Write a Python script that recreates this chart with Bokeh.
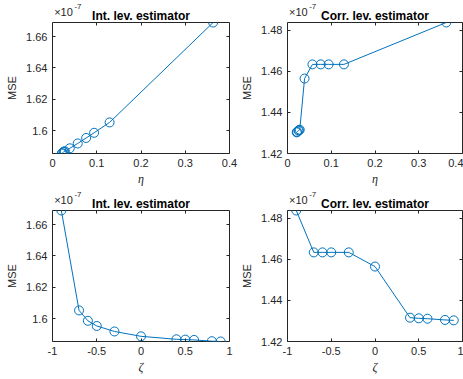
from bokeh.plotting import figure
from bokeh.models import (Range1d, FixedTicker, LinearAxis, CustomJSTickFormatter,
                          PrintfTickFormatter, ColumnDataSource, Title)
from bokeh.layouts import column, row
from bokeh.embed import file_html
from bokeh.resources import INLINE

# ---- data (MSE values in units of 1e-7) ----
zeta = [-0.9, -0.7, -0.6, -0.5, -0.3, 0.0, 0.4, 0.5, 0.6, 0.8, 0.9]
eta = [0.363, 0.129, 0.094, 0.076, 0.057, 0.039, 0.028, 0.026, 0.025, 0.022, 0.021]
mse_int = [1.6690, 1.6053, 1.5987, 1.5954, 1.5919, 1.5888, 1.5869, 1.5867, 1.5865, 1.5857, 1.5855]
mse_corr = [1.4838, 1.4634, 1.4634, 1.4634, 1.4634, 1.4565, 1.4316, 1.4313, 1.4311, 1.4305, 1.4303]

eta_ticks = [0, 0.1, 0.2, 0.3, 0.4]
zeta_ticks = [-1, -0.5, 0, 0.5, 1]
int_ticks = [1.6, 1.62, 1.64, 1.66]
corr_ticks = [1.42, 1.44, 1.46, 1.48]

titles = ["Int. lev. estimator", "Corr. lev. estimator"]
exp_base = "\u00d710"
exp_power = "-7"

BLUE = "#0072BD"
AX = "#262626"
FONT = "Liberation Sans"


def text_axis(p, text, pos, size, standoff):
    """An axis in the top panel that only carries one piece of text."""
    ax = LinearAxis(x_range_name="px", ticker=FixedTicker(ticks=[pos]),
                    formatter=CustomJSTickFormatter(args=dict(t=text), code="return t"))
    ax.major_tick_line_color = None
    ax.major_tick_in = 0
    ax.major_tick_out = 0
    ax.minor_tick_line_color = None
    ax.axis_line_color = None
    ax.axis_label = None
    ax.major_label_standoff = standoff
    ax.major_label_text_font = FONT
    ax.major_label_text_font_size = size
    ax.major_label_text_color = AX
    p.add_layout(ax, "above")


def make_plot(xs, ys, xr, yr, xticks, yticks, title, xlabel, w, h, bl, br, bt, bb):
    fw = w - bl - br
    p = figure(width=w, height=h, x_range=Range1d(*xr), y_range=Range1d(*yr),
               output_backend="svg", toolbar_location=None, title=None,
               min_border_left=bl, min_border_right=br,
               min_border_top=bt, min_border_bottom=bb)
    p.extra_x_ranges = {"px": Range1d(0, fw)}
    p.grid.visible = False
    p.outline_line_color = AX
    p.outline_line_width = 1
    p.background_fill_color = "white"
    p.border_fill_color = "white"

    # the default axes, configured through direct references
    xax = p.below[0]
    yax = p.left[0]
    fmt = PrintfTickFormatter(format="%g")
    for ax, ticks in ((xax, xticks), (yax, yticks)):
        ax.ticker = FixedTicker(ticks=ticks)
        ax.formatter = fmt
        ax.major_tick_in = 3
        ax.major_tick_out = 0
        ax.minor_tick_line_color = None
        ax.axis_line_color = None
        ax.major_tick_line_color = AX
        ax.major_label_text_font = FONT
        ax.major_label_text_font_size = "11px"
        ax.major_label_text_color = AX
        ax.axis_label_text_color = AX
        ax.major_label_standoff = 5

    xax.axis_label = xlabel
    xax.axis_label_text_font = "Liberation Serif"
    xax.axis_label_text_font_style = "italic"
    xax.axis_label_text_font_size = "12px"
    xax.axis_label_standoff = 2

    yax.axis_label = "MSE"
    yax.axis_label_text_font = FONT
    yax.axis_label_text_font_style = "normal"
    yax.axis_label_text_font_size = "11px"
    yax.axis_label_standoff = 5

    # title (innermost in the top panel)
    p.add_layout(Title(text=title, align="center", text_font=FONT, text_font_size="12px",
                       text_font_style="bold", text_color="black", standoff=0), "above")
    # axis exponent "x10^-7" at the top-left corner of the frame
    text_axis(p, exp_base, 11, "11px", -11)
    text_axis(p, exp_power, 25.5, "8px", -6)

    # mirrored ticks on top and right (MATLAB box style), no labels
    blank = CustomJSTickFormatter(code="return ''")
    top = LinearAxis(fixed_location=yr[1])
    right = LinearAxis(fixed_location=xr[1])
    for ax, ticks, side in ((top, xticks, "above"), (right, yticks, "right")):
        ax.ticker = FixedTicker(ticks=ticks)
        ax.formatter = blank
        ax.axis_label = None
        ax.major_tick_in = 3
        ax.major_tick_out = 0
        ax.minor_tick_line_color = None
        ax.axis_line_color = None
        ax.major_tick_line_color = AX
        p.add_layout(ax, side)

    src = ColumnDataSource(dict(x=xs, y=ys))
    p.line("x", "y", source=src, line_color=BLUE, line_width=1)
    p.scatter("x", "y", source=src, marker="circle", size=9, fill_color=None,
              line_color=BLUE, line_width=1)
    return p


int_range = (min(mse_int), max(mse_int))
corr_range = (corr_ticks[0], max(mse_corr))

p1 = make_plot(eta, mse_int, (eta_ticks[0], eta_ticks[-1]), int_range, eta_ticks, int_ticks,
               titles[0], "\u03b7", 238, 188, 52, 9, 21, 34)
p2 = make_plot(eta, mse_corr, (eta_ticks[0], eta_ticks[-1]), corr_range, eta_ticks, corr_ticks,
               titles[1], "\u03b7", 225, 188, 47, 1, 21, 34)
p3 = make_plot(zeta, mse_int, (zeta_ticks[0], zeta_ticks[-1]), int_range, zeta_ticks, int_ticks,
               titles[0], "\u03b6", 238, 191, 52, 9, 20, 38)
p4 = make_plot(zeta, mse_corr, (zeta_ticks[0], zeta_ticks[-1]), corr_range, zeta_ticks, corr_ticks,
               titles[1], "\u03b6", 225, 191, 47, 1, 20, 38)

layout = column(row(p1, p2, spacing=0), row(p3, p4, spacing=0), spacing=0)

with open("out.html", "w") as f:
    f.write(file_html(layout, INLINE))
